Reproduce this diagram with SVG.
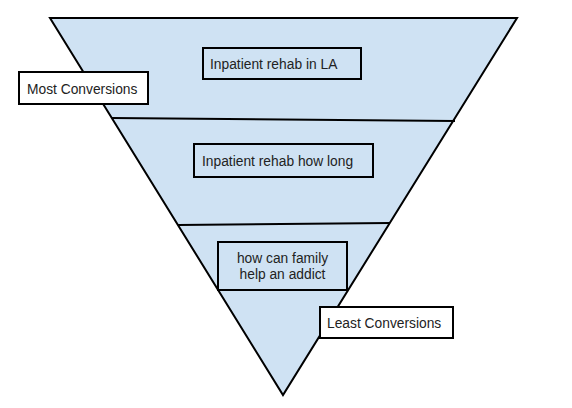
<svg xmlns="http://www.w3.org/2000/svg" width="572" height="408" viewBox="0 0 572 408">
<style>
.shape{fill:#cfe2f3;stroke:#000;stroke-width:2}
.box{fill:#cfe2f3;stroke:#000;stroke-width:2}
.wbox{fill:#fff;stroke:#000;stroke-width:2}
.line{fill:none;stroke:#000;stroke-width:2}
text{font-family:"Liberation Sans",Arial,sans-serif;font-size:13.8px;fill:#222}
</style>
<rect width="572" height="408" fill="#fff"/>
<g id="funnel">
<polygon class="shape" points="50,18 517,18 283,395"/>
</g>
<g id="connectors">
<line class="line" x1="112" y1="118" x2="455" y2="121"/>
<line class="line" x1="178" y1="225" x2="390" y2="223"/>
</g>
<g id="node-la">
<rect class="box" x="203" y="48" width="158" height="31"/>
<text x="210" y="68.5">Inpatient rehab in LA</text>
</g>
<g id="node-long">
<rect class="box" x="194" y="144" width="179" height="33"/>
<text x="202" y="165.5">Inpatient rehab how long</text>
</g>
<g id="node-family">
<rect class="box" x="218" y="242" width="129" height="48"/>
<text x="282.5" y="262.5" text-anchor="middle">how can family</text>
<text x="282.5" y="278.5" text-anchor="middle">help an addict</text>
</g>
<g id="node-most">
<rect class="wbox" x="19" y="72" width="129" height="32"/>
<text x="27" y="93.5">Most Conversions</text>
</g>
<g id="node-least">
<rect class="wbox" x="320" y="307" width="133" height="31"/>
<text x="327" y="327.5">Least Conversions</text>
</g>
</svg>
